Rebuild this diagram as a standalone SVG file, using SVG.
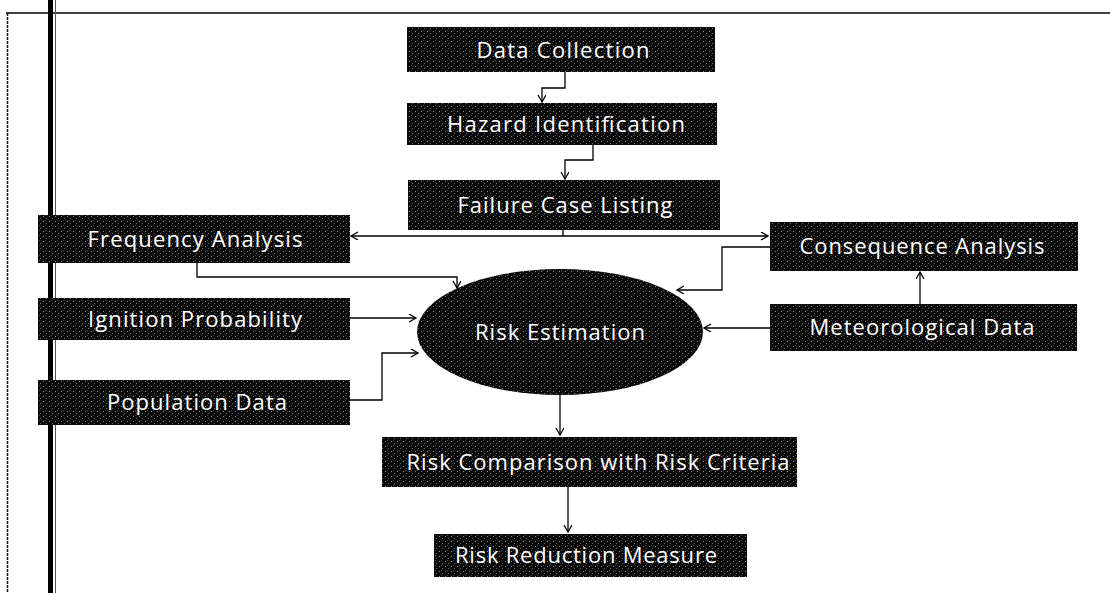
<svg xmlns="http://www.w3.org/2000/svg" width="1110" height="593" viewBox="0 0 1110 593">
<style>
.box{fill:url(#dith);}
.lbl{font-family:"Open Sans","Liberation Sans",sans-serif;font-size:22px;fill:#ffffff;text-anchor:middle;}
.con{fill:none;stroke:#000;stroke-width:1.3;}
</style>
<defs>
<pattern id="dith" width="6" height="5" patternUnits="userSpaceOnUse">
<rect width="6" height="5" fill="#0a0a0a"/>
<rect x="1" y="1" width="1" height="1" fill="#8a8a8a"/>
<rect x="4" y="3" width="1" height="1" fill="#6a6a6a"/>
<rect x="3" y="0" width="1" height="1" fill="#444"/>
</pattern>
<marker id="arr" markerWidth="10" markerHeight="10" refX="8" refY="4" orient="auto" markerUnits="userSpaceOnUse">
<path d="M1,0 L8,4 L1,8" fill="none" stroke="#000" stroke-width="1.3"/>
</marker>
</defs>
<rect width="1110" height="593" fill="#fff"/>
<g id="frame">
<line x1="6" y1="13" x2="1110" y2="13" stroke="#000" stroke-width="1.5"/>
<line x1="7.5" y1="13" x2="7.5" y2="593" stroke="#111" stroke-width="1.5" stroke-dasharray="3 1"/>
<rect x="48" y="0" width="5" height="593" fill="#000"/>
<line x1="55.5" y1="0" x2="55.5" y2="593" stroke="#555" stroke-width="1"/>
</g>
<g id="connectors">
<path class="con" d="M565,72 V88 H542 V102" marker-end="url(#arr)"/>
<path class="con" d="M593,145 V160 H565 V179" marker-end="url(#arr)"/>
<path class="con" d="M563,230 V236 H351" marker-end="url(#arr)"/>
<path class="con" d="M563,236 H768" marker-end="url(#arr)"/>
<path class="con" d="M197,263 V277 H457 V288" marker-end="url(#arr)"/>
<path class="con" d="M350,318 H416" marker-end="url(#arr)"/>
<path class="con" d="M350,400 H382 V353 H418" marker-end="url(#arr)"/>
<path class="con" d="M770,247 H722 V290 H677" marker-end="url(#arr)"/>
<path class="con" d="M770,328 H704" marker-end="url(#arr)"/>
<path class="con" d="M920,304 V272" marker-end="url(#arr)"/>
<path class="con" d="M560,395 V435" marker-end="url(#arr)"/>
<path class="con" d="M568,487 V532" marker-end="url(#arr)"/>
</g>
<g id="data-collection">
<rect class="box" x="407" y="27" width="308" height="45"/>
<text class="lbl" x="563" y="58" textLength="173" lengthAdjust="spacing">Data Collection</text>
</g>
<g id="hazard-identification">
<rect class="box" x="407" y="103" width="310" height="42"/>
<text class="lbl" x="566" y="132" textLength="238" lengthAdjust="spacing">Hazard Identification</text>
</g>
<g id="failure-case-listing">
<rect class="box" x="408" y="180" width="312" height="50"/>
<text class="lbl" x="565" y="213" textLength="215" lengthAdjust="spacing">Failure Case Listing</text>
</g>
<g id="frequency-analysis">
<rect class="box" x="38" y="215" width="312" height="48"/>
<text class="lbl" x="195" y="247" textLength="215" lengthAdjust="spacing">Frequency Analysis</text>
</g>
<g id="ignition-probability">
<rect class="box" x="38" y="298" width="312" height="42"/>
<text class="lbl" x="195" y="327" textLength="214" lengthAdjust="spacing">Ignition Probability</text>
</g>
<g id="population-data">
<rect class="box" x="38" y="380" width="312" height="45"/>
<text class="lbl" x="197" y="410" textLength="180" lengthAdjust="spacing">Population Data</text>
</g>
<g id="risk-estimation">
<ellipse cx="560" cy="332" rx="143" ry="63" fill="url(#dith)"/>
<text class="lbl" x="560" y="340" textLength="170" lengthAdjust="spacing">Risk Estimation</text>
</g>
<g id="consequence-analysis">
<rect class="box" x="770" y="222" width="308" height="49"/>
<text class="lbl" x="922" y="254" textLength="245" lengthAdjust="spacing">Consequence Analysis</text>
</g>
<g id="meteorological-data">
<rect class="box" x="770" y="304" width="307" height="47"/>
<text class="lbl" x="922" y="335" textLength="225" lengthAdjust="spacing">Meteorological Data</text>
</g>
<g id="risk-comparison">
<rect class="box" x="382" y="437" width="415" height="50"/>
<text class="lbl" x="598" y="470" textLength="383" lengthAdjust="spacing">Risk Comparison with Risk Criteria</text>
</g>
<g id="risk-reduction">
<rect class="box" x="434" y="534" width="313" height="43"/>
<text class="lbl" x="586" y="563" textLength="262" lengthAdjust="spacing">Risk Reduction Measure</text>
</g>
</svg>
